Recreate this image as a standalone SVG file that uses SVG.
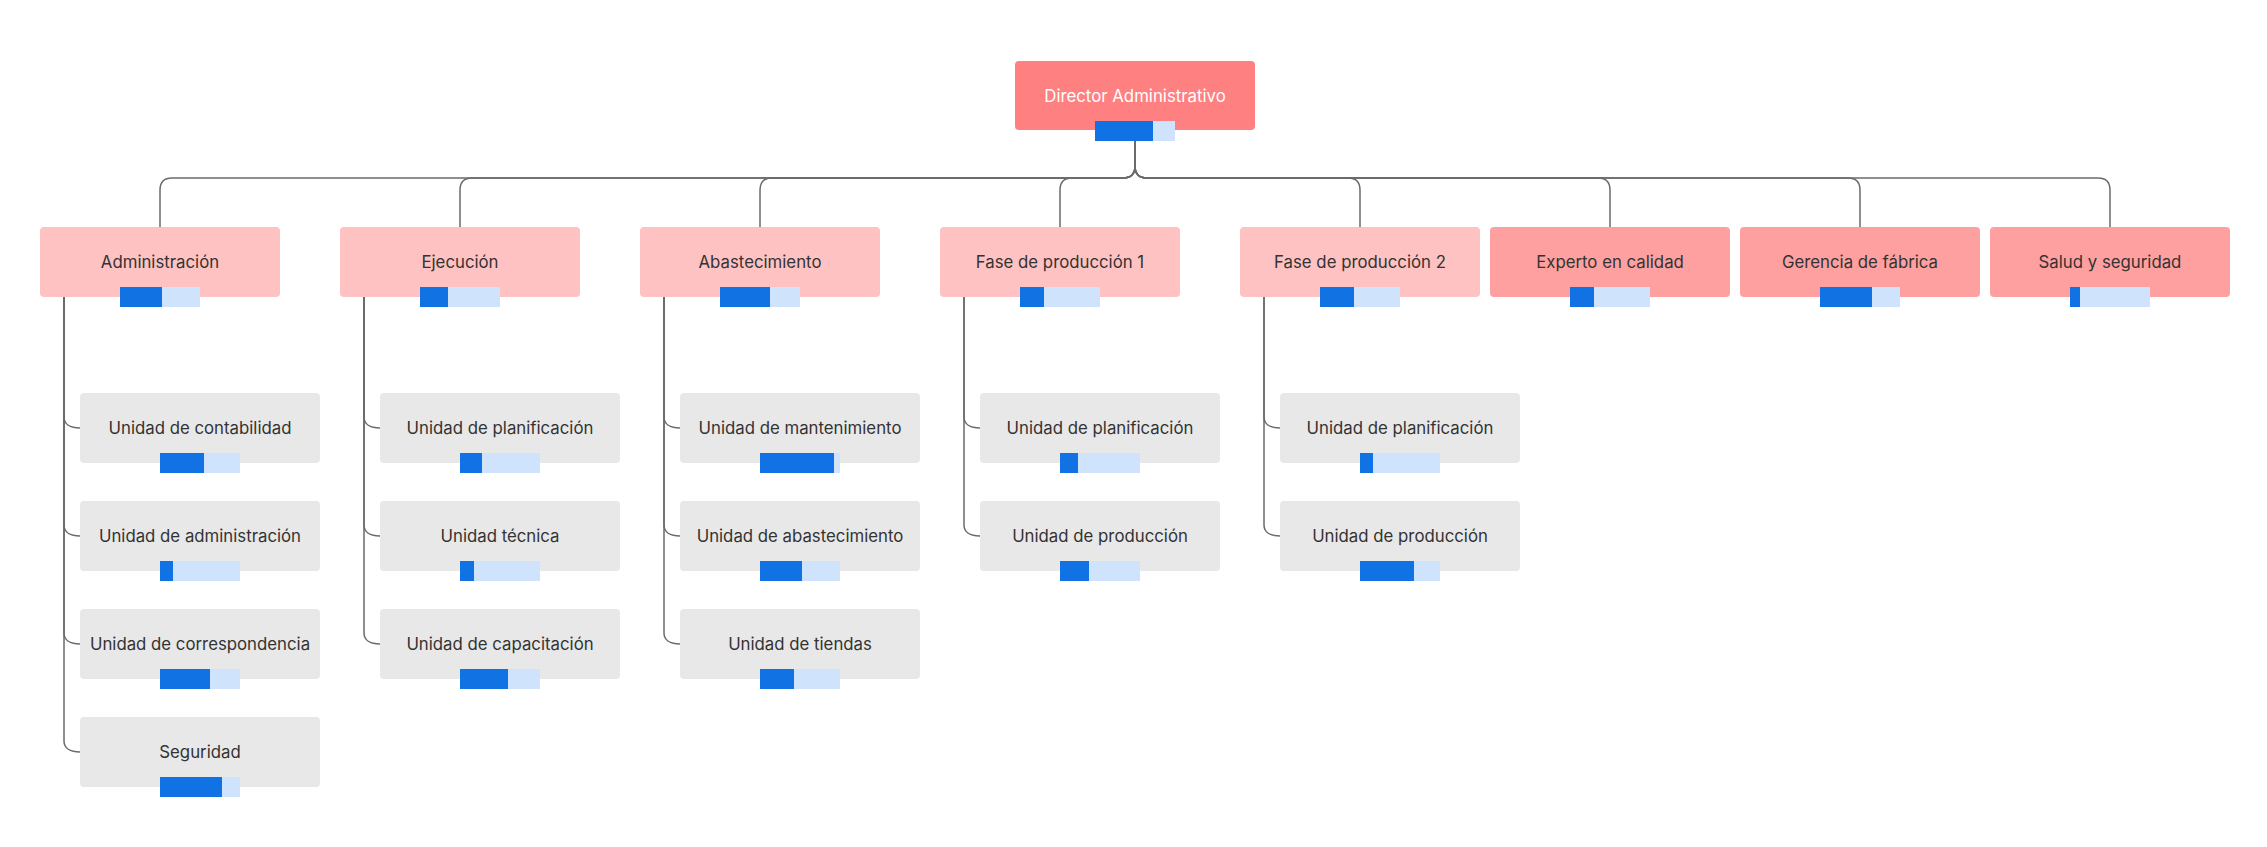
<svg xmlns="http://www.w3.org/2000/svg" width="2267" height="847" viewBox="0 0 2267 847">
<style>
.dir{fill:#FF8080}
.grp{fill:#FFC2C2}
.red{fill:#FFA0A0}
.unit{fill:#E8E8E8}
.t{font-family:Inter,"Noto Sans",sans-serif;font-size:16.8px;fill:#333333;text-anchor:middle;dominant-baseline:central}
.tw{fill:#FFFFFF}
.bg{fill:#CFE3FC}
.fg{fill:#1173E3}
.c{fill:none;stroke:#6B6B6B;stroke-width:1.5}
</style>
<rect width="2267" height="847" fill="#FFFFFF"/>
<g id="connectors">
<path class="c" d="M1135,140 V166 Q1135,178 1123,178 H172 Q160,178 160,190 V227"/>
<path class="c" d="M1135,140 V166 Q1135,178 1123,178 H472 Q460,178 460,190 V227"/>
<path class="c" d="M1135,140 V166 Q1135,178 1123,178 H772 Q760,178 760,190 V227"/>
<path class="c" d="M1135,140 V166 Q1135,178 1123,178 H1072 Q1060,178 1060,190 V227"/>
<path class="c" d="M1135,140 V166 Q1135,178 1147,178 H1348 Q1360,178 1360,190 V227"/>
<path class="c" d="M1135,140 V166 Q1135,178 1147,178 H1598 Q1610,178 1610,190 V227"/>
<path class="c" d="M1135,140 V166 Q1135,178 1147,178 H1848 Q1860,178 1860,190 V227"/>
<path class="c" d="M1135,140 V166 Q1135,178 1147,178 H2098 Q2110,178 2110,190 V227"/>
<path class="c" d="M64,297 V417 C64,424 70,428 80,428"/>
<path class="c" d="M64,297 V525 C64,532 70,536 80,536"/>
<path class="c" d="M64,297 V633 C64,640 70,644 80,644"/>
<path class="c" d="M64,297 V741 C64,748 70,752 80,752"/>
<path class="c" d="M364,297 V417 C364,424 370,428 380,428"/>
<path class="c" d="M364,297 V525 C364,532 370,536 380,536"/>
<path class="c" d="M364,297 V633 C364,640 370,644 380,644"/>
<path class="c" d="M664,297 V417 C664,424 670,428 680,428"/>
<path class="c" d="M664,297 V525 C664,532 670,536 680,536"/>
<path class="c" d="M664,297 V633 C664,640 670,644 680,644"/>
<path class="c" d="M964,297 V417 C964,424 970,428 980,428"/>
<path class="c" d="M964,297 V525 C964,532 970,536 980,536"/>
<path class="c" d="M1264,297 V417 C1264,424 1270,428 1280,428"/>
<path class="c" d="M1264,297 V525 C1264,532 1270,536 1280,536"/>
</g>
<g id="director"><rect class="dir" x="1015" y="61" width="240" height="69" rx="4"/><text class="t tw" x="1135" y="96">Director Administrativo</text><rect class="bg" x="1095" y="121" width="80" height="20"/><rect class="fg" x="1095" y="121" width="58" height="20"/></g>
<g id="administracion"><rect class="grp" x="40" y="227" width="240" height="70" rx="4"/><text class="t" x="160" y="262">Administración</text><rect class="bg" x="120" y="287" width="80" height="20"/><rect class="fg" x="120" y="287" width="42" height="20"/></g>
<g id="ejecucion"><rect class="grp" x="340" y="227" width="240" height="70" rx="4"/><text class="t" x="460" y="262">Ejecución</text><rect class="bg" x="420" y="287" width="80" height="20"/><rect class="fg" x="420" y="287" width="28" height="20"/></g>
<g id="abastecimiento"><rect class="grp" x="640" y="227" width="240" height="70" rx="4"/><text class="t" x="760" y="262">Abastecimiento</text><rect class="bg" x="720" y="287" width="80" height="20"/><rect class="fg" x="720" y="287" width="50" height="20"/></g>
<g id="fase1"><rect class="grp" x="940" y="227" width="240" height="70" rx="4"/><text class="t" x="1060" y="262">Fase de producción 1</text><rect class="bg" x="1020" y="287" width="80" height="20"/><rect class="fg" x="1020" y="287" width="24" height="20"/></g>
<g id="fase2"><rect class="grp" x="1240" y="227" width="240" height="70" rx="4"/><text class="t" x="1360" y="262">Fase de producción 2</text><rect class="bg" x="1320" y="287" width="80" height="20"/><rect class="fg" x="1320" y="287" width="34" height="20"/></g>
<g id="experto"><rect class="red" x="1490" y="227" width="240" height="70" rx="4"/><text class="t" x="1610" y="262">Experto en calidad</text><rect class="bg" x="1570" y="287" width="80" height="20"/><rect class="fg" x="1570" y="287" width="24" height="20"/></g>
<g id="gerencia"><rect class="red" x="1740" y="227" width="240" height="70" rx="4"/><text class="t" x="1860" y="262">Gerencia de fábrica</text><rect class="bg" x="1820" y="287" width="80" height="20"/><rect class="fg" x="1820" y="287" width="52" height="20"/></g>
<g id="salud"><rect class="red" x="1990" y="227" width="240" height="70" rx="4"/><text class="t" x="2110" y="262">Salud y seguridad</text><rect class="bg" x="2070" y="287" width="80" height="20"/><rect class="fg" x="2070" y="287" width="10" height="20"/></g>
<g id="adm-contabilidad"><rect class="unit" x="80" y="393" width="240" height="70" rx="4"/><text class="t" x="200" y="428">Unidad de contabilidad</text><rect class="bg" x="160" y="453" width="80" height="20"/><rect class="fg" x="160" y="453" width="44" height="20"/></g>
<g id="adm-administracion"><rect class="unit" x="80" y="501" width="240" height="70" rx="4"/><text class="t" x="200" y="536">Unidad de administración</text><rect class="bg" x="160" y="561" width="80" height="20"/><rect class="fg" x="160" y="561" width="13" height="20"/></g>
<g id="adm-correspondencia"><rect class="unit" x="80" y="609" width="240" height="70" rx="4"/><text class="t" x="200" y="644">Unidad de correspondencia</text><rect class="bg" x="160" y="669" width="80" height="20"/><rect class="fg" x="160" y="669" width="50" height="20"/></g>
<g id="adm-seguridad"><rect class="unit" x="80" y="717" width="240" height="70" rx="4"/><text class="t" x="200" y="752">Seguridad</text><rect class="bg" x="160" y="777" width="80" height="20"/><rect class="fg" x="160" y="777" width="62" height="20"/></g>
<g id="eje-planificacion"><rect class="unit" x="380" y="393" width="240" height="70" rx="4"/><text class="t" x="500" y="428">Unidad de planificación</text><rect class="bg" x="460" y="453" width="80" height="20"/><rect class="fg" x="460" y="453" width="22" height="20"/></g>
<g id="eje-tecnica"><rect class="unit" x="380" y="501" width="240" height="70" rx="4"/><text class="t" x="500" y="536">Unidad técnica</text><rect class="bg" x="460" y="561" width="80" height="20"/><rect class="fg" x="460" y="561" width="14" height="20"/></g>
<g id="eje-capacitacion"><rect class="unit" x="380" y="609" width="240" height="70" rx="4"/><text class="t" x="500" y="644">Unidad de capacitación</text><rect class="bg" x="460" y="669" width="80" height="20"/><rect class="fg" x="460" y="669" width="48" height="20"/></g>
<g id="aba-mantenimiento"><rect class="unit" x="680" y="393" width="240" height="70" rx="4"/><text class="t" x="800" y="428">Unidad de mantenimiento</text><rect class="bg" x="760" y="453" width="80" height="20"/><rect class="fg" x="760" y="453" width="74" height="20"/></g>
<g id="aba-abastecimiento"><rect class="unit" x="680" y="501" width="240" height="70" rx="4"/><text class="t" x="800" y="536">Unidad de abastecimiento</text><rect class="bg" x="760" y="561" width="80" height="20"/><rect class="fg" x="760" y="561" width="42" height="20"/></g>
<g id="aba-tiendas"><rect class="unit" x="680" y="609" width="240" height="70" rx="4"/><text class="t" x="800" y="644">Unidad de tiendas</text><rect class="bg" x="760" y="669" width="80" height="20"/><rect class="fg" x="760" y="669" width="34" height="20"/></g>
<g id="f1-planificacion"><rect class="unit" x="980" y="393" width="240" height="70" rx="4"/><text class="t" x="1100" y="428">Unidad de planificación</text><rect class="bg" x="1060" y="453" width="80" height="20"/><rect class="fg" x="1060" y="453" width="18" height="20"/></g>
<g id="f1-produccion"><rect class="unit" x="980" y="501" width="240" height="70" rx="4"/><text class="t" x="1100" y="536">Unidad de producción</text><rect class="bg" x="1060" y="561" width="80" height="20"/><rect class="fg" x="1060" y="561" width="29" height="20"/></g>
<g id="f2-planificacion"><rect class="unit" x="1280" y="393" width="240" height="70" rx="4"/><text class="t" x="1400" y="428">Unidad de planificación</text><rect class="bg" x="1360" y="453" width="80" height="20"/><rect class="fg" x="1360" y="453" width="13" height="20"/></g>
<g id="f2-produccion"><rect class="unit" x="1280" y="501" width="240" height="70" rx="4"/><text class="t" x="1400" y="536">Unidad de producción</text><rect class="bg" x="1360" y="561" width="80" height="20"/><rect class="fg" x="1360" y="561" width="54" height="20"/></g>
</svg>
